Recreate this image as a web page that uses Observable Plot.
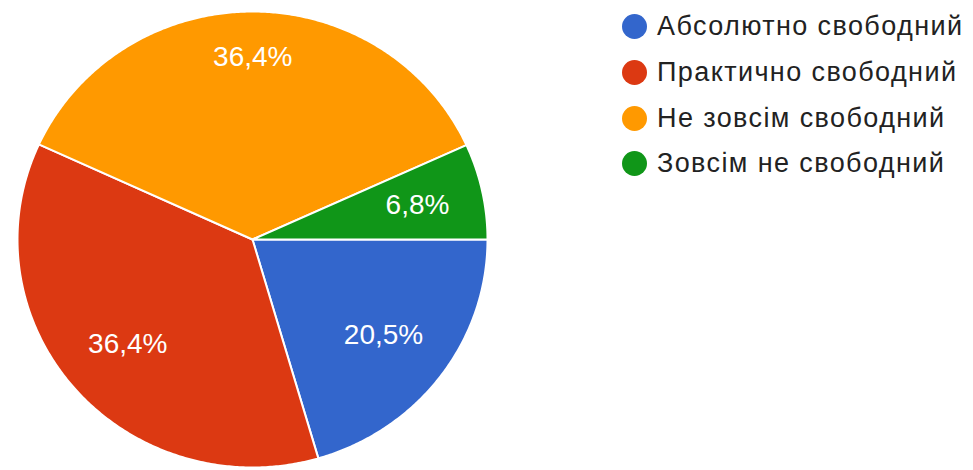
<!DOCTYPE html>
<html>
<head>
<meta charset="utf-8">
<script src="https://cdn.jsdelivr.net/npm/d3@7"></script>
<script src="https://cdn.jsdelivr.net/npm/@observablehq/plot@0.6"></script>
<style>
  html, body { margin: 0; padding: 0; background: #fff; }
  #wrap { position: relative; width: 973px; height: 470px; overflow: hidden; }
  #legend { position: absolute; left: 622px; top: 4px; font-family: "Liberation Sans", Arial, sans-serif; font-size: 27px; letter-spacing: 1.4px; color: #222; }
  .item { display: flex; align-items: center; height: 45.7px; }
  .sw { width: 25px; height: 25px; border-radius: 50%; margin-right: 10px; flex: none; }
</style>
</head>
<body>
<div id="wrap"><div id="legend"></div></div>
<script>
const categories = ["Абсолютно свободний", "Практично свободний", "Не зовсім свободний", "Зовсім не свободний"];
const values = [20.5, 36.4, 36.4, 6.8];
const colors = ["#3366cc", "#dc3912", "#ff9900", "#109618"];

const total = d3.sum(values);
const startAngle = Math.PI / 2; // slices begin at 3 o'clock, running clockwise
const fontSize = 28;
const fontFamily = "Liberation Sans, Arial, sans-serif";

// layout constants of the pie (pixels)
const cx = 252, cy = 239, rx = 235, ry = 228;

// build slice outlines from the values
const points = [];
const labels = [];
let acc = 0;
const ctx = document.createElement("canvas").getContext("2d");
ctx.font = `${fontSize}px ${fontFamily}`;
values.forEach((v, i) => {
  const a0 = startAngle + (acc / total) * 2 * Math.PI;
  acc += v;
  const a1 = startAngle + (acc / total) * 2 * Math.PI;
  const name = categories[i];
  points.push({name, x: 0, y: 0});
  const n = Math.max(2, Math.ceil((a1 - a0) / (Math.PI / 360)));
  for (let k = 0; k <= n; ++k) {
    const a = a0 + (a1 - a0) * k / n;
    points.push({name, x: Math.sin(a), y: -Math.cos(a)});
  }
  points.push({name, x: 0, y: 0});
  // label: outer corner of the text box sits at a fixed fraction of the radius
  const text = v.toFixed(1).replace(".", ",") + "%";
  const am = (a0 + a1) / 2;
  const ux = Math.sin(am), uy = -Math.cos(am);
  const hw = ctx.measureText(text).width / 2, hh = fontSize * 0.34;
  const ox = Math.sign(ux || 1) * hw / rx, oy = Math.sign(uy || 1) * hh / ry;
  const K = 0.86;
  const uo = ux * ox + uy * oy;
  const t = -uo + Math.sqrt(uo * uo - (ox * ox + oy * oy) + K * K);
  labels.push({name, text, x: t * ux, y: t * uy});
});

const chart = Plot.plot({
  width: 973,
  height: 470,
  margin: 0,
  x: {domain: [-1, 1], range: [cx - rx, cx + rx], axis: null},
  y: {domain: [-1, 1], range: [cy - ry, cy + ry], axis: null},
  color: {domain: categories, range: colors},
  style: {background: "transparent"},
  marks: [
    Plot.line(points, {x: "x", y: "y", z: "name", fill: "name", stroke: "white", strokeWidth: 2, strokeLinejoin: "round", curve: "linear"}),
    Plot.text(labels, {x: "x", y: "y", text: "text", fill: "white", fontSize, fontFamily})
  ]
});
document.getElementById("wrap").prepend(chart);

const legend = d3.select("#legend");
categories.forEach((c, i) => {
  const item = legend.append("div").attr("class", "item");
  item.append("div").attr("class", "sw").style("background", colors[i]);
  item.append("span").text(c);
});
</script>
</body>
</html>
